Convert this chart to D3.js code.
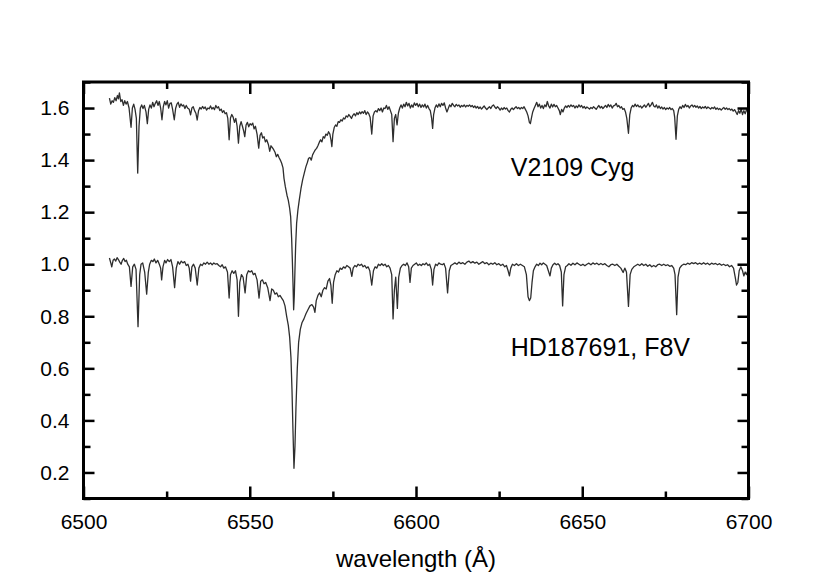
<!DOCTYPE html>
<html>
<head>
<meta charset="utf-8">
<script src="https://cdn.jsdelivr.net/npm/d3@7"></script>
<style>
  body { margin: 0; background: #fff; }
  svg text { font-family: "Liberation Sans", Arial, sans-serif; fill: #000; }
</style>
</head>
<body>
<div class="graph"></div>
<script>
// tick values
const xMajor = [6500, 6550, 6600, 6650, 6700];
const xMinor = [6525, 6575, 6625, 6675];
const yMajor = [0.2, 0.4, 0.6, 0.8, 1.0, 1.2, 1.4, 1.6];
const yMinor = [0.1, 0.3, 0.5, 0.7, 0.9, 1.1, 1.3, 1.5, 1.7];
const seriesNames = ["V2109 Cyg", "HD187691, F8V"];
const labelAt = [[6628.5, 1.337], [6628.5, 0.649]];

// V2109 Cyg, shifted up by 0.6 ([wavelength, flux])
const cygSpectrum = [[6507.8,1.638],[6508.2,1.615],[6508.6,1.628],[6509.0,1.622],[6509.4,1.64],[6509.8,1.628],[6510.2,1.648],[6510.5,1.635],[6510.8,1.658],[6511.2,1.625],[6511.6,1.632],[6512.0,1.61],[6512.4,1.628],[6512.8,1.615],[6513.2,1.625],[6513.7,1.60],[6514.3,1.526],[6514.7,1.60],[6515.1,1.615],[6515.5,1.595],[6515.9,1.56],[6516.3,1.35],[6516.7,1.53],[6517.1,1.60],[6517.5,1.612],[6517.9,1.598],[6518.3,1.61],[6518.8,1.585],[6519.2,1.54],[6519.6,1.595],[6520.0,1.612],[6520.4,1.6],[6520.8,1.622],[6521.2,1.605],[6521.6,1.618],[6522.0,1.628],[6522.4,1.61],[6522.8,1.625],[6523.2,1.6],[6523.6,1.555],[6524.0,1.605],[6524.4,1.625],[6524.8,1.612],[6525.2,1.628],[6525.6,1.6],[6526.0,1.618],[6526.4,1.62],[6526.8,1.595],[6527.3,1.555],[6527.7,1.598],[6528.1,1.615],[6528.5,1.622],[6528.9,1.603],[6529.3,1.616],[6529.7,1.608],[6530.1,1.612],[6530.5,1.598],[6530.9,1.61],[6531.3,1.6],[6531.8,1.595],[6532.2,1.574],[6532.6,1.6],[6533.0,1.605],[6533.4,1.59],[6533.8,1.58],[6534.2,1.554],[6534.6,1.59],[6535.0,1.602],[6535.4,1.596],[6535.8,1.606],[6536.2,1.598],[6536.6,1.604],[6537.0,1.592],[6537.4,1.6],[6537.8,1.597],[6538.2,1.608],[6538.6,1.596],[6539.0,1.602],[6539.4,1.594],[6539.8,1.61],[6540.2,1.6],[6540.6,1.605],[6541.0,1.59],[6541.4,1.596],[6541.8,1.583],[6542.2,1.59],[6542.6,1.578],[6543.0,1.582],[6543.4,1.56],[6543.8,1.478],[6544.2,1.562],[6544.6,1.575],[6545.0,1.565],[6545.4,1.545],[6545.8,1.56],[6546.2,1.53],[6546.6,1.465],[6547.0,1.53],[6547.4,1.548],[6547.8,1.53],[6548.2,1.51],[6548.5,1.49],[6548.9,1.535],[6549.3,1.545],[6549.7,1.528],[6550.1,1.54],[6550.5,1.535],[6550.9,1.542],[6551.3,1.52],[6551.7,1.53],[6552.2,1.50],[6552.7,1.446],[6553.1,1.495],[6553.5,1.505],[6553.9,1.485],[6554.3,1.49],[6554.7,1.47],[6555.1,1.478],[6555.6,1.46],[6556.0,1.434],[6556.4,1.455],[6556.8,1.448],[6557.2,1.44],[6557.6,1.43],[6558.0,1.413],[6558.4,1.422],[6558.8,1.41],[6559.2,1.40],[6559.6,1.388],[6560.0,1.37],[6560.3,1.33],[6560.7,1.298],[6561.2,1.265],[6561.6,1.245],[6562.0,1.215],[6562.3,1.183],[6562.6,1.10],[6562.8,1.02],[6563.0,0.93],[6563.2,0.825],[6563.4,0.88],[6563.6,0.98],[6563.8,1.07],[6564.1,1.158],[6564.5,1.21],[6564.9,1.247],[6565.4,1.29],[6565.9,1.324],[6566.4,1.35],[6566.9,1.375],[6567.3,1.39],[6567.7,1.407],[6568.1,1.41],[6568.5,1.40],[6568.9,1.42],[6569.3,1.43],[6569.7,1.439],[6570.1,1.445],[6570.5,1.455],[6570.9,1.468],[6571.3,1.478],[6571.7,1.47],[6572.1,1.49],[6572.5,1.485],[6572.9,1.50],[6573.3,1.495],[6573.7,1.509],[6574.1,1.5],[6574.4,1.48],[6574.7,1.452],[6575.0,1.50],[6575.4,1.525],[6575.8,1.535],[6576.2,1.53],[6576.6,1.548],[6577.0,1.545],[6577.4,1.555],[6577.8,1.55],[6578.2,1.562],[6578.6,1.558],[6579.0,1.57],[6579.4,1.565],[6579.8,1.575],[6580.2,1.568],[6580.6,1.56],[6581.0,1.572],[6581.4,1.578],[6581.8,1.57],[6582.2,1.582],[6582.6,1.575],[6583.0,1.585],[6583.4,1.578],[6583.8,1.586],[6584.2,1.58],[6584.6,1.59],[6585.0,1.575],[6585.4,1.585],[6585.8,1.578],[6586.2,1.565],[6586.7,1.50],[6587.1,1.57],[6587.5,1.585],[6587.9,1.59],[6588.3,1.585],[6588.7,1.598],[6589.1,1.59],[6589.5,1.6],[6589.9,1.585],[6590.3,1.6],[6590.7,1.598],[6591.1,1.61],[6591.5,1.595],[6591.9,1.605],[6592.3,1.59],[6592.7,1.575],[6593.1,1.471],[6593.5,1.56],[6593.9,1.575],[6594.3,1.535],[6594.7,1.58],[6595.1,1.6],[6595.5,1.612],[6595.9,1.6],[6596.3,1.615],[6596.7,1.605],[6597.1,1.622],[6597.5,1.608],[6597.9,1.618],[6598.3,1.6],[6598.7,1.612],[6599.1,1.603],[6599.5,1.62],[6599.9,1.61],[6600.3,1.618],[6600.7,1.605],[6601.1,1.615],[6601.5,1.602],[6601.9,1.612],[6602.3,1.604],[6602.7,1.615],[6603.1,1.6],[6603.5,1.61],[6603.9,1.598],[6604.3,1.59],[6604.7,1.56],[6605.0,1.522],[6605.3,1.575],[6605.7,1.6],[6606.1,1.612],[6606.5,1.603],[6606.9,1.616],[6607.3,1.605],[6607.7,1.618],[6608.1,1.61],[6608.5,1.62],[6608.9,1.6],[6609.3,1.585],[6609.7,1.598],[6610.1,1.612],[6610.5,1.605],[6610.9,1.618],[6611.3,1.61],[6611.7,1.605],[6612.1,1.614],[6612.5,1.608],[6612.9,1.612],[6613.3,1.603],[6613.7,1.61],[6614.1,1.606],[6614.5,1.612],[6614.9,1.604],[6615.3,1.61],[6615.7,1.607],[6616.1,1.612],[6616.5,1.605],[6616.9,1.61],[6617.3,1.602],[6617.7,1.608],[6618.1,1.6],[6618.5,1.606],[6618.9,1.598],[6619.3,1.604],[6619.7,1.596],[6620.1,1.602],[6620.5,1.608],[6620.9,1.6],[6621.3,1.594],[6621.7,1.6],[6622.1,1.605],[6622.5,1.598],[6622.9,1.608],[6623.3,1.612],[6623.7,1.604],[6624.1,1.598],[6624.5,1.605],[6624.9,1.6],[6625.3,1.592],[6625.7,1.6],[6626.1,1.594],[6626.5,1.602],[6626.9,1.596],[6627.3,1.6],[6627.7,1.59],[6628.1,1.585],[6628.5,1.595],[6628.9,1.6],[6629.3,1.594],[6629.7,1.6],[6630.1,1.605],[6630.5,1.598],[6630.9,1.602],[6631.3,1.596],[6631.7,1.602],[6632.1,1.598],[6632.5,1.605],[6632.9,1.595],[6633.3,1.585],[6633.7,1.57],[6634.1,1.545],[6634.4,1.54],[6634.7,1.56],[6635.1,1.585],[6635.5,1.598],[6635.9,1.61],[6636.3,1.622],[6636.7,1.605],[6637.1,1.615],[6637.5,1.6],[6637.9,1.61],[6638.3,1.598],[6638.7,1.612],[6639.1,1.605],[6639.5,1.625],[6639.9,1.608],[6640.3,1.6],[6640.7,1.615],[6641.1,1.604],[6641.5,1.614],[6641.9,1.605],[6642.3,1.61],[6642.7,1.6],[6643.1,1.59],[6643.4,1.575],[6643.8,1.595],[6644.2,1.585],[6644.6,1.6],[6645.0,1.608],[6645.4,1.602],[6645.8,1.61],[6646.2,1.604],[6646.6,1.612],[6647.0,1.606],[6647.4,1.61],[6647.8,1.6],[6648.2,1.608],[6648.6,1.602],[6649.0,1.612],[6649.4,1.604],[6649.8,1.61],[6650.2,1.6],[6650.6,1.606],[6651.0,1.598],[6651.4,1.604],[6651.8,1.6],[6652.2,1.596],[6652.6,1.602],[6653.0,1.598],[6653.4,1.605],[6653.8,1.6],[6654.2,1.595],[6654.6,1.603],[6655.0,1.61],[6655.4,1.6],[6655.8,1.606],[6656.2,1.598],[6656.6,1.604],[6657.0,1.61],[6657.4,1.602],[6657.8,1.614],[6658.2,1.605],[6658.6,1.612],[6659.0,1.6],[6659.4,1.608],[6659.8,1.61],[6660.2,1.618],[6660.6,1.605],[6661.0,1.61],[6661.4,1.6],[6661.8,1.605],[6662.2,1.595],[6662.6,1.598],[6663.0,1.585],[6663.4,1.56],[6663.9,1.503],[6664.3,1.575],[6664.7,1.6],[6665.1,1.61],[6665.5,1.605],[6665.9,1.615],[6666.3,1.606],[6666.7,1.612],[6667.1,1.604],[6667.5,1.608],[6667.9,1.6],[6668.3,1.606],[6668.7,1.612],[6669.1,1.603],[6669.5,1.61],[6669.9,1.618],[6670.3,1.605],[6670.7,1.612],[6671.1,1.622],[6671.5,1.608],[6671.9,1.604],[6672.3,1.612],[6672.7,1.6],[6673.1,1.608],[6673.5,1.598],[6673.9,1.604],[6674.3,1.596],[6674.7,1.602],[6675.1,1.594],[6675.5,1.6],[6675.9,1.596],[6676.3,1.602],[6676.7,1.594],[6677.1,1.598],[6677.5,1.59],[6677.8,1.565],[6678.2,1.48],[6678.6,1.57],[6679.0,1.595],[6679.4,1.605],[6679.8,1.598],[6680.2,1.61],[6680.6,1.602],[6681.0,1.614],[6681.4,1.605],[6681.8,1.61],[6682.2,1.6],[6682.6,1.608],[6683.0,1.612],[6683.4,1.604],[6683.8,1.61],[6684.2,1.603],[6684.6,1.608],[6685.0,1.6],[6685.4,1.606],[6685.8,1.598],[6686.2,1.604],[6686.6,1.6],[6687.0,1.606],[6687.4,1.598],[6687.8,1.604],[6688.2,1.6],[6688.6,1.596],[6689.0,1.602],[6689.4,1.598],[6689.8,1.604],[6690.2,1.595],[6690.6,1.6],[6691.0,1.594],[6691.4,1.598],[6691.8,1.592],[6692.2,1.598],[6692.6,1.602],[6693.0,1.595],[6693.4,1.6],[6693.8,1.594],[6694.2,1.598],[6694.6,1.592],[6695.0,1.596],[6695.4,1.588],[6695.8,1.594],[6696.2,1.585],[6696.6,1.575],[6697.0,1.59],[6697.4,1.58],[6697.8,1.596],[6698.2,1.575],[6698.6,1.59],[6699.0,1.578],[6699.4,1.594],[6699.8,1.585]];

// HD187691 comparison star ([wavelength, flux])
const hdSpectrum = [[6507.8,1.024],[6508.2,1.005],[6508.5,0.99],[6508.9,1.015],[6509.3,1.02],[6509.7,1.012],[6510.1,1.025],[6510.5,1.018],[6510.9,1.008],[6511.3,1.0],[6511.7,1.015],[6512.1,1.022],[6512.5,1.01],[6512.9,1.015],[6513.3,1.0],[6513.8,0.99],[6514.3,0.915],[6514.8,0.99],[6515.3,1.0],[6515.8,0.98],[6516.4,0.76],[6516.9,0.96],[6517.3,1.0],[6517.8,1.005],[6518.4,0.97],[6519.0,0.885],[6519.5,0.97],[6519.9,1.0],[6520.4,1.015],[6520.9,1.01],[6521.3,1.02],[6521.8,1.005],[6522.3,1.015],[6522.8,1.0],[6523.2,0.985],[6523.5,0.94],[6523.9,0.99],[6524.4,1.015],[6524.8,1.005],[6525.3,1.018],[6525.8,1.01],[6526.3,1.018],[6526.8,0.99],[6527.4,0.91],[6527.9,0.985],[6528.4,1.01],[6528.9,1.0],[6529.4,1.012],[6529.9,1.005],[6530.4,1.01],[6530.9,0.995],[6531.4,1.0],[6531.8,0.985],[6532.2,0.935],[6532.6,0.99],[6533.1,1.0],[6533.6,0.985],[6534.2,0.92],[6534.7,0.985],[6535.2,1.0],[6535.7,0.995],[6536.2,1.005],[6536.7,1.0],[6537.2,1.008],[6537.7,1.0],[6538.2,1.005],[6538.7,0.998],[6539.2,1.005],[6539.7,1.0],[6540.2,1.002],[6540.7,0.995],[6541.2,0.99],[6541.7,0.998],[6542.2,0.985],[6542.7,0.99],[6543.3,0.97],[6543.8,0.87],[6544.2,0.96],[6544.7,0.975],[6545.2,0.965],[6545.7,0.975],[6546.2,0.94],[6546.6,0.80],[6547.0,0.93],[6547.5,0.96],[6548.0,0.95],[6548.6,0.89],[6549.1,0.96],[6549.6,0.975],[6550.1,0.97],[6550.6,0.975],[6551.1,0.96],[6551.6,0.965],[6552.2,0.94],[6552.8,0.87],[6553.3,0.935],[6553.8,0.94],[6554.3,0.925],[6554.8,0.93],[6555.4,0.91],[6556.1,0.86],[6556.6,0.905],[6557.1,0.90],[6557.6,0.885],[6558.1,0.89],[6558.6,0.875],[6559.1,0.88],[6559.6,0.87],[6560.1,0.86],[6560.6,0.84],[6561.1,0.80],[6561.6,0.765],[6562.0,0.72],[6562.4,0.64],[6562.7,0.52],[6563.0,0.36],[6563.3,0.216],[6563.6,0.30],[6563.9,0.45],[6564.3,0.60],[6564.7,0.70],[6565.2,0.75],[6565.7,0.775],[6566.3,0.79],[6566.9,0.81],[6567.5,0.825],[6568.1,0.84],[6568.7,0.845],[6569.2,0.835],[6569.6,0.815],[6570.0,0.86],[6570.5,0.88],[6571.0,0.89],[6571.5,0.875],[6572.0,0.90],[6572.5,0.91],[6573.0,0.905],[6573.5,0.935],[6574.0,0.945],[6574.4,0.92],[6574.8,0.85],[6575.2,0.93],[6575.7,0.96],[6576.2,0.975],[6576.7,0.97],[6577.2,0.985],[6577.7,0.98],[6578.2,0.99],[6578.7,0.985],[6579.2,0.995],[6579.7,0.99],[6580.2,0.985],[6580.7,0.953],[6581.1,0.985],[6581.6,0.995],[6582.1,0.99],[6582.6,1.0],[6583.1,0.995],[6583.6,1.0],[6584.1,0.99],[6584.6,0.995],[6585.1,0.985],[6585.6,0.99],[6586.1,0.975],[6586.7,0.92],[6587.2,0.975],[6587.7,0.99],[6588.2,0.985],[6588.7,1.0],[6589.2,0.995],[6589.7,1.002],[6590.2,0.995],[6590.7,1.0],[6591.2,0.99],[6591.7,0.995],[6592.2,0.985],[6592.7,0.96],[6593.1,0.79],[6593.5,0.9],[6593.9,0.95],[6594.4,0.83],[6594.8,0.95],[6595.3,0.985],[6595.8,0.995],[6596.3,1.0],[6596.8,0.995],[6597.3,1.005],[6597.8,0.99],[6598.2,0.93],[6598.6,0.985],[6599.1,0.995],[6599.6,1.0],[6600.1,1.005],[6600.6,0.995],[6601.1,1.0],[6601.6,0.995],[6602.1,1.002],[6602.6,0.998],[6603.1,1.005],[6603.6,0.995],[6604.1,1.0],[6604.6,0.98],[6605.0,0.92],[6605.4,0.98],[6605.9,1.0],[6606.4,0.995],[6606.9,1.005],[6607.4,1.0],[6607.9,0.998],[6608.4,1.003],[6608.9,0.985],[6609.5,0.89],[6610.0,0.975],[6610.5,0.995],[6611.1,1.0],[6611.7,1.005],[6612.3,1.0],[6612.9,1.008],[6613.5,1.002],[6614.1,1.006],[6614.7,1.0],[6615.3,1.008],[6615.9,1.012],[6616.5,1.005],[6617.1,1.01],[6617.7,1.004],[6618.3,1.008],[6618.9,1.0],[6619.5,1.005],[6620.1,1.01],[6620.7,1.002],[6621.3,1.006],[6621.9,0.998],[6622.5,1.004],[6623.1,1.0],[6623.7,1.006],[6624.3,0.998],[6624.9,1.002],[6625.5,0.995],[6626.1,1.0],[6626.7,0.99],[6627.2,0.995],[6627.7,0.975],[6628.1,0.955],[6628.5,0.985],[6629.0,1.0],[6629.6,0.995],[6630.2,1.002],[6630.8,0.995],[6631.4,1.0],[6632.0,0.995],[6632.6,0.99],[6633.2,0.96],[6633.7,0.875],[6634.1,0.86],[6634.5,0.87],[6634.9,0.93],[6635.3,0.975],[6635.8,0.99],[6636.3,1.0],[6636.8,0.995],[6637.3,1.004],[6637.8,0.998],[6638.3,1.005],[6638.8,1.0],[6639.3,0.995],[6639.8,0.975],[6640.3,0.955],[6640.7,0.985],[6641.2,0.998],[6641.7,1.004],[6642.2,0.998],[6642.7,1.002],[6643.2,0.995],[6643.7,0.97],[6644.1,0.84],[6644.5,0.96],[6645.0,0.99],[6645.5,0.995],[6646.0,1.002],[6646.6,0.996],[6647.2,1.004],[6647.8,0.998],[6648.4,1.005],[6649.0,1.0],[6649.6,0.995],[6650.2,1.0],[6650.8,0.994],[6651.4,1.0],[6652.0,1.004],[6652.6,0.998],[6653.2,1.005],[6653.8,1.0],[6654.4,1.004],[6655.0,0.998],[6655.6,1.003],[6656.2,0.998],[6656.8,1.002],[6657.4,0.995],[6658.0,0.99],[6658.6,0.998],[6659.2,1.0],[6659.8,0.995],[6660.4,1.0],[6661.0,0.992],[6661.6,0.985],[6662.3,0.968],[6662.8,0.985],[6663.3,0.97],[6663.9,0.838],[6664.4,0.96],[6664.9,0.98],[6665.5,0.99],[6666.1,0.995],[6666.7,1.0],[6667.3,0.995],[6667.9,1.002],[6668.5,0.995],[6669.1,1.0],[6669.7,0.992],[6670.3,0.998],[6670.9,0.99],[6671.5,0.995],[6672.1,0.99],[6672.7,0.998],[6673.3,1.0],[6673.9,0.995],[6674.5,1.0],[6675.1,0.995],[6675.7,0.998],[6676.3,0.992],[6676.9,0.995],[6677.5,0.985],[6677.9,0.96],[6678.4,0.806],[6678.8,0.95],[6679.3,0.985],[6679.9,0.995],[6680.5,1.0],[6681.1,0.998],[6681.7,1.004],[6682.3,1.0],[6682.9,1.006],[6683.5,1.002],[6684.1,1.006],[6684.7,1.0],[6685.3,1.004],[6685.9,1.0],[6686.5,1.006],[6687.1,1.0],[6687.7,1.004],[6688.3,0.998],[6688.9,1.004],[6689.5,1.0],[6690.1,1.003],[6690.7,0.998],[6691.3,1.002],[6691.9,0.996],[6692.5,1.0],[6693.1,0.995],[6693.7,0.998],[6694.3,0.99],[6694.9,0.995],[6695.5,0.985],[6696.0,0.95],[6696.4,0.92],[6696.8,0.93],[6697.2,0.975],[6697.7,0.99],[6698.2,0.975],[6698.6,0.955],[6699.0,0.97],[6699.4,0.96],[6699.8,0.975]];

let width = 830;
let height = 583;
let margin = {top: 82, right: 81.5, bottom: 84.5, left: 83.5};
let w = width - margin.left - margin.right;
let h = height - margin.top - margin.bottom;

let svg = d3.select(".graph")
	.append("svg")
	.attr("width", width)
	.attr("height", height)
	.append("g")
	.attr("transform", "translate(" + margin.left + "," + margin.top + ")");

let x = d3.scaleLinear().domain([6500, 6700]).range([0, w]);
let y = d3.scaleLinear().domain([0.1, 1.7]).range([h, 0]);

// spectra
let line = d3.line()
	.x(function(d){ return x(d[0]); })
	.y(function(d){ return y(d[1]); });

svg.selectAll(".spec")
	.data([cygSpectrum, hdSpectrum])
	.enter().append("path")
	.attr("class", "spec")
	.attr("d", line)
	.attr("fill", "none")
	.attr("stroke", "#2e2e2e")
	.attr("stroke-width", 1.3)
	.attr("stroke-linejoin", "round");

// ticks point inward on all four sides
function styleAxis(g, sw){
	g.select(".domain").remove();
	g.selectAll(".tick line").attr("stroke", "#000").attr("stroke-width", sw);
}

svg.append("g")
	.attr("transform", "translate(0," + h + ")")
	.call(d3.axisBottom(x).tickValues(xMajor).tickSize(-12).tickPadding(16).tickFormat(d3.format("d")))
	.call(styleAxis, 2.5)
	.selectAll("text").style("font-size", "21px");

svg.append("g")
	.attr("transform", "translate(0," + h + ")")
	.call(d3.axisBottom(x).tickValues(xMinor).tickSize(-7).tickFormat(""))
	.call(styleAxis, 2.5);

svg.append("g")
	.call(d3.axisTop(x).tickValues(xMajor).tickSize(-12).tickFormat(""))
	.call(styleAxis, 2.5);

svg.append("g")
	.call(d3.axisTop(x).tickValues(xMinor).tickSize(-7).tickFormat(""))
	.call(styleAxis, 2.5);

svg.append("g")
	.call(d3.axisLeft(y).tickValues(yMajor).tickSize(-11).tickPadding(14).tickFormat(d3.format(".1f")))
	.call(styleAxis, 2.5)
	.selectAll("text").style("font-size", "21px");

svg.append("g")
	.call(d3.axisLeft(y).tickValues(yMinor).tickSize(-7).tickFormat(""))
	.call(styleAxis, 2.5);

svg.append("g")
	.attr("transform", "translate(" + w + ",0)")
	.call(d3.axisRight(y).tickValues(yMajor).tickSize(-11).tickFormat(""))
	.call(styleAxis, 2.5);

svg.append("g")
	.attr("transform", "translate(" + w + ",0)")
	.call(d3.axisRight(y).tickValues(yMinor).tickSize(-7).tickFormat(""))
	.call(styleAxis, 2.5);

// frame
svg.append("rect")
	.attr("width", w)
	.attr("height", h)
	.attr("fill", "none")
	.attr("stroke", "#000")
	.attr("stroke-width", 3);

// star names
svg.selectAll(".name")
	.data(seriesNames)
	.enter().append("text")
	.attr("class", "name")
	.attr("x", function(d, i){ return x(labelAt[i][0]); })
	.attr("y", function(d, i){ return y(labelAt[i][1]); })
	.style("font-size", "25px")
	.text(String);

// axis title
svg.append("text")
	.attr("x", w / 2)
	.attr("y", h + 68)
	.attr("text-anchor", "middle")
	.style("font-size", "24px")
	.text("wavelength (Å)");
</script>
</body>
</html>
